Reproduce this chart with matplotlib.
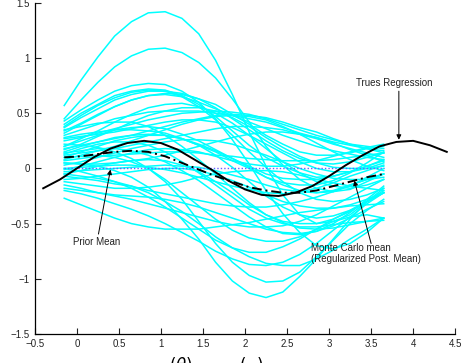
import matplotlib
matplotlib.use("Agg")
import matplotlib.pyplot as plt
from matplotlib.ticker import FuncFormatter

x_grid = [-0.15, 0.05, 0.25, 0.45, 0.65, 0.85, 1.05, 1.25, 1.45, 1.65,
          1.85, 2.05, 2.25, 2.45, 2.65, 2.85, 3.05, 3.25, 3.45, 3.65]

sample_paths = [
    [0.57, 0.80, 1.01, 1.20, 1.33, 1.41, 1.42, 1.36, 1.22, 0.98, 0.67, 0.33, 0.02, -0.24, -0.42, -0.50, -0.48, -0.42, -0.30, -0.20],
    [0.45, 0.62, 0.78, 0.92, 1.02, 1.08, 1.09, 1.05, 0.96, 0.82, 0.63, 0.42, 0.20, 0.03, -0.10, -0.18, -0.21, -0.19, -0.12, -0.05],
    [0.43, 0.53, 0.62, 0.70, 0.75, 0.77, 0.76, 0.70, 0.60, 0.45, 0.26, 0.04, -0.20, -0.41, -0.58, -0.70, -0.73, -0.68, -0.58, -0.45],
    [0.40, 0.50, 0.58, 0.66, 0.70, 0.72, 0.71, 0.66, 0.58, 0.47, 0.34, 0.21, 0.10, 0.02, -0.04, -0.08, -0.07, -0.03, 0.02, 0.08],
    [0.37, 0.46, 0.54, 0.62, 0.67, 0.70, 0.70, 0.68, 0.63, 0.55, 0.45, 0.35, 0.25, 0.16, 0.09, 0.05, 0.04, 0.06, 0.10, 0.14],
    [0.34, 0.41, 0.49, 0.56, 0.62, 0.66, 0.68, 0.67, 0.63, 0.58, 0.49, 0.40, 0.30, 0.22, 0.15, 0.12, 0.12, 0.14, 0.18, 0.20],
    [0.30, 0.35, 0.40, 0.45, 0.48, 0.51, 0.52, 0.52, 0.52, 0.50, 0.48, 0.45, 0.42, 0.37, 0.32, 0.28, 0.24, 0.21, 0.18, 0.16],
    [0.25, 0.28, 0.32, 0.36, 0.40, 0.44, 0.47, 0.50, 0.51, 0.52, 0.51, 0.49, 0.45, 0.40, 0.35, 0.30, 0.26, 0.22, 0.20, 0.18],
    [0.20, 0.27, 0.34, 0.42, 0.49, 0.55, 0.58, 0.59, 0.56, 0.50, 0.41, 0.30, 0.18, 0.06, -0.04, -0.12, -0.16, -0.18, -0.15, -0.10],
    [0.18, 0.21, 0.24, 0.27, 0.30, 0.34, 0.38, 0.42, 0.45, 0.48, 0.49, 0.48, 0.46, 0.42, 0.37, 0.33, 0.27, 0.22, 0.18, 0.14],
    [0.15, 0.20, 0.24, 0.28, 0.30, 0.31, 0.30, 0.27, 0.22, 0.16, 0.09, 0.01, -0.08, -0.15, -0.20, -0.22, -0.21, -0.16, -0.08, 0.00],
    [0.12, 0.14, 0.16, 0.18, 0.21, 0.24, 0.27, 0.30, 0.33, 0.36, 0.38, 0.38, 0.37, 0.35, 0.31, 0.27, 0.22, 0.18, 0.14, 0.10],
    [0.10, 0.15, 0.20, 0.25, 0.28, 0.30, 0.30, 0.27, 0.21, 0.12, 0.01, -0.12, -0.25, -0.35, -0.42, -0.45, -0.43, -0.38, -0.30, -0.22],
    [0.07, 0.09, 0.11, 0.12, 0.13, 0.14, 0.15, 0.15, 0.14, 0.12, 0.11, 0.09, 0.08, 0.07, 0.07, 0.07, 0.08, 0.10, 0.12, 0.14],
    [0.03, 0.06, 0.10, 0.14, 0.18, 0.21, 0.24, 0.26, 0.26, 0.25, 0.22, 0.17, 0.12, 0.06, 0.00, -0.05, -0.09, -0.10, -0.10, -0.08],
    [0.00, 0.01, 0.02, 0.03, 0.03, 0.01, -0.01, -0.04, -0.08, -0.12, -0.16, -0.19, -0.22, -0.23, -0.21, -0.18, -0.13, -0.07, -0.02, 0.03],
    [-0.03, -0.02, -0.01, 0.00, 0.01, 0.02, 0.03, 0.02, 0.01, -0.02, -0.06, -0.10, -0.15, -0.19, -0.21, -0.22, -0.20, -0.15, -0.10, -0.05],
    [-0.07, -0.09, -0.11, -0.14, -0.16, -0.20, -0.23, -0.26, -0.29, -0.32, -0.34, -0.35, -0.35, -0.33, -0.30, -0.26, -0.21, -0.15, -0.10, -0.05],
    [-0.10, -0.09, -0.07, -0.05, -0.03, -0.01, 0.00, 0.00, -0.02, -0.06, -0.11, -0.17, -0.24, -0.30, -0.34, -0.36, -0.36, -0.33, -0.28, -0.22],
    [-0.15, -0.18, -0.22, -0.25, -0.28, -0.32, -0.36, -0.40, -0.44, -0.48, -0.51, -0.53, -0.53, -0.52, -0.48, -0.42, -0.34, -0.26, -0.18, -0.10],
    [-0.20, -0.23, -0.27, -0.32, -0.37, -0.43, -0.50, -0.58, -0.66, -0.75, -0.82, -0.87, -0.88, -0.85, -0.78, -0.68, -0.56, -0.44, -0.32, -0.22],
    [-0.27, -0.33, -0.39, -0.45, -0.50, -0.53, -0.55, -0.55, -0.55, -0.53, -0.51, -0.49, -0.46, -0.43, -0.40, -0.38, -0.36, -0.34, -0.33, -0.32],
    [0.05, 0.04, 0.02, -0.02, -0.08, -0.17, -0.30, -0.46, -0.64, -0.85, -1.02, -1.13, -1.17, -1.12, -0.98, -0.82, -0.64, -0.46, -0.30, -0.18],
    [0.22, 0.21, 0.19, 0.15, 0.09, 0.00, -0.12, -0.28, -0.48, -0.68, -0.85, -0.97, -1.03, -1.02, -0.94, -0.80, -0.65, -0.50, -0.38, -0.28],
    [-0.05, -0.07, -0.09, -0.12, -0.16, -0.22, -0.30, -0.39, -0.50, -0.62, -0.72, -0.80, -0.86, -0.88, -0.88, -0.82, -0.74, -0.64, -0.55, -0.45],
    [0.00, -0.03, -0.07, -0.12, -0.18, -0.26, -0.35, -0.45, -0.55, -0.65, -0.72, -0.76, -0.76, -0.71, -0.64, -0.55, -0.48, -0.44, -0.42, -0.45],
    [0.10, 0.11, 0.12, 0.10, 0.06, 0.00, -0.10, -0.22, -0.34, -0.46, -0.56, -0.63, -0.66, -0.66, -0.62, -0.55, -0.46, -0.38, -0.30, -0.22],
    [0.13, 0.18, 0.22, 0.24, 0.24, 0.21, 0.15, 0.06, -0.04, -0.15, -0.26, -0.37, -0.45, -0.50, -0.53, -0.53, -0.51, -0.49, -0.48, -0.47],
    [0.35, 0.38, 0.41, 0.42, 0.42, 0.38, 0.30, 0.20, 0.08, -0.05, -0.18, -0.31, -0.42, -0.49, -0.54, -0.55, -0.54, -0.51, -0.48, -0.45],
    [0.20, 0.25, 0.30, 0.35, 0.37, 0.38, 0.36, 0.31, 0.25, 0.17, 0.09, 0.02, -0.05, -0.09, -0.10, -0.10, -0.07, -0.03, 0.02, 0.07],
    [0.05, 0.04, 0.04, 0.05, 0.07, 0.09, 0.12, 0.16, 0.20, 0.24, 0.28, 0.31, 0.33, 0.33, 0.31, 0.28, 0.23, 0.17, 0.12, 0.06],
    [-0.12, -0.14, -0.16, -0.18, -0.18, -0.17, -0.15, -0.12, -0.08, -0.05, -0.03, -0.02, -0.02, -0.03, -0.06, -0.10, -0.13, -0.16, -0.18, -0.20],
    [0.28, 0.31, 0.33, 0.35, 0.35, 0.34, 0.32, 0.27, 0.21, 0.15, 0.07, 0.00, -0.08, -0.13, -0.15, -0.15, -0.11, -0.04, 0.05, 0.15],
    [-0.05, -0.02, 0.02, 0.05, 0.07, 0.08, 0.07, 0.03, -0.03, -0.12, -0.22, -0.33, -0.42, -0.48, -0.50, -0.50, -0.46, -0.39, -0.30, -0.22],
    [0.17, 0.22, 0.29, 0.35, 0.42, 0.48, 0.52, 0.55, 0.55, 0.52, 0.46, 0.38, 0.28, 0.19, 0.11, 0.05, 0.01, 0.00, 0.00, 0.02],
    [0.38, 0.48, 0.57, 0.64, 0.69, 0.71, 0.70, 0.65, 0.56, 0.44, 0.30, 0.15, 0.01, -0.12, -0.22, -0.28, -0.30, -0.28, -0.24, -0.18],
    [0.32, 0.40, 0.48, 0.56, 0.62, 0.66, 0.67, 0.65, 0.60, 0.54, 0.48, 0.42, 0.36, 0.30, 0.25, 0.20, 0.16, 0.13, 0.10, 0.08],
    [0.08, 0.12, 0.16, 0.20, 0.25, 0.30, 0.35, 0.40, 0.44, 0.47, 0.48, 0.47, 0.44, 0.38, 0.31, 0.23, 0.15, 0.08, 0.02, -0.02],
    [0.27, 0.29, 0.31, 0.33, 0.36, 0.39, 0.42, 0.44, 0.44, 0.42, 0.37, 0.30, 0.22, 0.14, 0.06, 0.00, -0.03, -0.03, 0.00, 0.05],
    [-0.18, -0.20, -0.22, -0.24, -0.25, -0.26, -0.28, -0.31, -0.35, -0.40, -0.45, -0.50, -0.55, -0.58, -0.59, -0.57, -0.52, -0.45, -0.37, -0.30],
    [0.14, 0.16, 0.18, 0.18, 0.16, 0.12, 0.06, -0.02, -0.11, -0.22, -0.33, -0.44, -0.53, -0.59, -0.60, -0.57, -0.50, -0.40, -0.28, -0.16],
    [-0.01, 0.02, 0.06, 0.10, 0.14, 0.17, 0.18, 0.17, 0.15, 0.11, 0.07, 0.04, 0.02, 0.02, 0.04, 0.07, 0.11, 0.15, 0.19, 0.22],
]

mc_mean = [0.10, 0.11, 0.13, 0.15, 0.16, 0.15, 0.11, 0.05, -0.01, -0.07, -0.12, -0.17, -0.20, -0.22, -0.22, -0.20, -0.16, -0.12, -0.08, -0.05]
prior_mean = [0.0] * len(x_grid)

x_true = [-0.4, -0.2, 0.0, 0.2, 0.4, 0.6, 0.8, 1.0, 1.2, 1.4, 1.6, 1.8, 2.0,
          2.2, 2.4, 2.6, 2.8, 3.0, 3.2, 3.4, 3.6, 3.8, 4.0, 4.2, 4.4]
y_true = [-0.18, -0.10, 0.00, 0.10, 0.18, 0.23, 0.25, 0.23, 0.17, 0.08, -0.01, -0.11, -0.19,
          -0.24, -0.25, -0.22, -0.16, -0.07, 0.03, 0.12, 0.20, 0.24, 0.25, 0.21, 0.15]

x_ticks = [-0.5, 0, 0.5, 1, 1.5, 2, 2.5, 3, 3.5, 4, 4.5]
y_ticks = [-1.5, -1, -0.5, 0, 0.5, 1, 1.5]


def fmt(v, _pos):
    return f"{v:g}".replace("-", "\u2212")


plt.rcParams.update({"font.family": "Liberation Sans", "font.size": 7})

fig = plt.figure(figsize=(4.64, 3.63), dpi=100)
ax = fig.add_axes([0.075, 0.08, 0.906, 0.912])

for path in sample_paths:
    ax.plot(x_grid, path, color="#00ffff", linewidth=1.1, zorder=1)

ax.plot(x_grid, prior_mean, color="#6a5cff", linestyle=(0, (1, 1.5)), linewidth=1.0, zorder=2)
ax.plot(x_true, y_true, color="black", linewidth=1.4, zorder=3)
ax.plot(x_grid, mc_mean, color="black", linestyle=(0, (5, 2, 1, 2)), linewidth=1.4, zorder=3)

arrow = dict(arrowstyle="-|>", color="black", lw=0.7, mutation_scale=7, shrinkA=0, shrinkB=0)
ax.text(3.77, 0.73, "Trues Regression", ha="center", va="bottom", fontsize=7, color="#222222")
ax.annotate("", xy=(3.83, 0.26), xytext=(3.83, 0.70), arrowprops=arrow)
ax.annotate("Prior Mean", xy=(0.40, -0.01), xytext=(0.24, -0.62),
            ha="center", va="top", fontsize=7, color="#222222", arrowprops=arrow)
ax.annotate("", xy=(3.3, -0.11), xytext=(3.5, -0.68), arrowprops=arrow)
ax.text(2.79, -0.68, "Monte Carlo mean\n(Regularized Post. Mean)", ha="left", va="top",
        fontsize=7, color="#222222", linespacing=1.05)

ax.set_xlim(-0.5, 4.5)
ax.set_ylim(-1.5, 1.5)
ax.set_xticks(x_ticks)
ax.set_yticks(y_ticks)
ax.xaxis.set_major_formatter(FuncFormatter(fmt))
ax.yaxis.set_major_formatter(FuncFormatter(fmt))
ax.tick_params(direction="in", length=4, width=0.8, labelsize=7, colors="#222222")
for side in ("top", "right"):
    ax.spines[side].set_visible(False)
for side in ("left", "bottom"):
    ax.spines[side].set_linewidth(0.9)

# caption below the axis, cut off by the figure edge as in the source
fig.text(0.365, -0.022, r"$(\theta)$", fontsize=12, ha="left", va="baseline")
fig.text(0.515, -0.022, r"$(\ \ )$", fontsize=12, ha="left", va="baseline")

fig.savefig("out.png", dpi=100)
